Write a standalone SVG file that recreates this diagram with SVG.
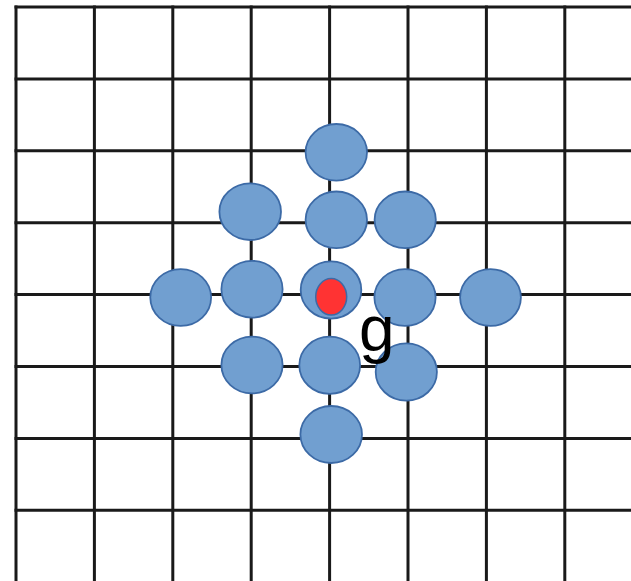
<svg xmlns="http://www.w3.org/2000/svg" width="631" height="581" viewBox="0 0 631 581">
<style>
.grid line{stroke:#1a1a1a;stroke-width:3}
.c{fill:#719fd0;stroke:#3c6aa6;stroke-width:1.8}
.r{fill:#ff3333;stroke:#3c6aa6;stroke-width:1.5}
.t{font-family:"Liberation Sans",Arial,sans-serif;fill:#000}
</style>
<rect width="631" height="581" fill="#fff"/>
<g id="grid" class="grid">
<line x1="16" y1="5.5" x2="16" y2="581"/>
<line x1="94.4" y1="5.5" x2="94.4" y2="581"/>
<line x1="172.8" y1="5.5" x2="172.8" y2="581"/>
<line x1="251.2" y1="5.5" x2="251.2" y2="581"/>
<line x1="329.6" y1="5.5" x2="329.6" y2="581"/>
<line x1="408" y1="5.5" x2="408" y2="581"/>
<line x1="486.4" y1="5.5" x2="486.4" y2="581"/>
<line x1="564.8" y1="5.5" x2="564.8" y2="581"/>
<line x1="14.5" y1="7" x2="631" y2="7"/>
<line x1="14.5" y1="78.9" x2="631" y2="78.9"/>
<line x1="14.5" y1="150.8" x2="631" y2="150.8"/>
<line x1="14.5" y1="222.7" x2="631" y2="222.7"/>
<line x1="14.5" y1="294.6" x2="631" y2="294.6"/>
<line x1="14.5" y1="366.5" x2="631" y2="366.5"/>
<line x1="14.5" y1="438.4" x2="631" y2="438.4"/>
<line x1="14.5" y1="510.3" x2="631" y2="510.3"/>
</g>
<g id="connectors"></g>
<g id="n1"><ellipse class="c" cx="336.3" cy="152.3" rx="30.7" ry="28.3"/></g>
<g id="n2"><ellipse class="c" cx="250.2" cy="211.7" rx="30.8" ry="28.3"/></g>
<g id="n3"><ellipse class="c" cx="336.3" cy="219.8" rx="30.7" ry="28.3"/></g>
<g id="n4"><ellipse class="c" cx="405.2" cy="219.8" rx="30.6" ry="28.3"/></g>
<g id="n5"><ellipse class="c" cx="180.7" cy="297.5" rx="30.4" ry="28.4"/></g>
<g id="n6"><ellipse class="c" cx="252" cy="289.2" rx="30.6" ry="28.4"/></g>
<g id="n7"><ellipse class="c" cx="331" cy="290" rx="30.3" ry="28.6"/><ellipse class="r" cx="331.2" cy="296.8" rx="15.5" ry="18.2"/></g>
<g id="n8"><ellipse class="c" cx="405" cy="297.5" rx="30.6" ry="28.4"/></g>
<g id="n9"><ellipse class="c" cx="490.5" cy="297.5" rx="30.4" ry="28.4"/></g>
<g id="n10"><ellipse class="c" cx="252" cy="365" rx="30.6" ry="28.4"/></g>
<g id="n11"><ellipse class="c" cx="329.7" cy="365.3" rx="30.4" ry="28.6"/></g>
<g id="n12"><ellipse class="c" cx="406.3" cy="372" rx="30.6" ry="28.6"/></g>
<g id="n13"><ellipse class="c" cx="331.2" cy="434.5" rx="30.8" ry="28.5"/></g>
<g id="labels">
<text class="t" x="359" y="350.5" font-size="64">g</text>
<text class="t" x="-20" y="222" font-size="40">s</text>
</g>
</svg>
